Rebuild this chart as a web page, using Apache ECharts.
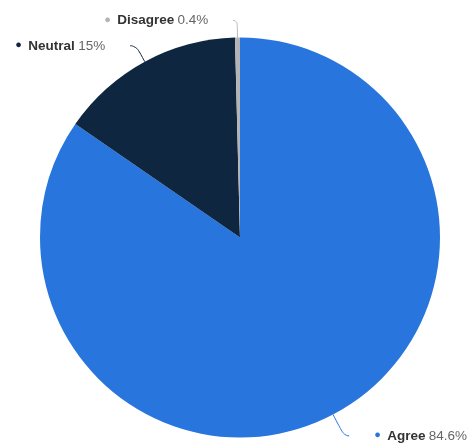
<!DOCTYPE html>
<html>
<head>
<meta charset="utf-8">
<script src="https://cdn.jsdelivr.net/npm/echarts@6/dist/echarts.min.js"></script>
<style>
  html, body { margin: 0; padding: 0; background: #fff; }
  #chart { width: 470px; height: 443px; }
</style>
</head>
<body>
<div id="chart"></div>
<script>
// Survey responses (share of respondents, %)
const categories = ['Agree', 'Neutral', 'Disagree'];
const shares = [84.6, 15, 0.4];
const colors = ['#2876dd', '#0f2640', '#b4b4b4'];
// connector lengths per slice: [radial, horizontal]
const connectors = [[24, 5], [18, 6], [17, 4]];

const chart = echarts.init(document.getElementById('chart'));

const font = 'Liberation Sans, Arial, sans-serif';
const rich = {
  name: { fontFamily: font, fontSize: 13.5, fontWeight: 'bold', color: '#333333' },
  val: { fontFamily: font, fontSize: 13.5, color: '#666666' }
};
colors.forEach((c, i) => {
  rich['dot' + i] = { fontSize: 11, color: c, padding: [0, 3, 1, 0] };
});

chart.setOption({
  animation: false,
  series: [{
    type: 'pie',
    center: [240, 237.5],
    radius: 200,
    startAngle: 90,
    clockwise: true,
    avoidLabelOverlap: false,
    data: categories.map((name, i) => ({
      name,
      value: shares[i],
      itemStyle: { color: colors[i] },
      labelLine: {
        length: connectors[i][0],
        length2: connectors[i][1],
        lineStyle: { color: colors[i] }
      }
    })),
    label: {
      show: true,
      position: 'outside',
      distanceToLabelLine: 25,
      formatter: p => `{dot${p.dataIndex}|●} {name|${p.name}} {val|${p.value}%}`,
      rich
    },
    labelLine: {
      show: true,
      smooth: 0.6,
      lineStyle: { width: 1 }
    },
    emphasis: { disabled: true }
  }]
});
</script>
</body>
</html>
